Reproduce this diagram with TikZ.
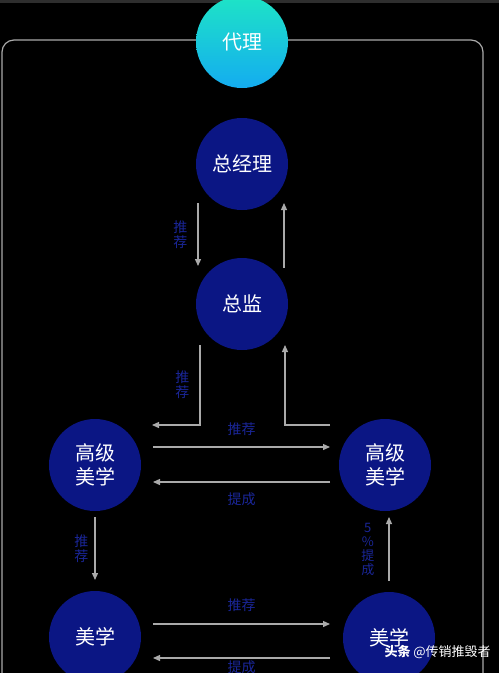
\documentclass[tikz,border=0pt]{standalone}
\usepackage{fontspec}
\setmainfont{Noto Sans CJK SC}
\usepackage{tikz}
\usetikzlibrary{arrows.meta,calc}

\definecolor{navy}{RGB}{11,22,132}
\definecolor{lblblue}{RGB}{26,38,152}
\definecolor{linegray}{RGB}{170,170,170}
\definecolor{tealtop}{RGB}{30,228,198}
\definecolor{cyanbot}{RGB}{20,172,240}

\begin{document}
\begin{tikzpicture}[x=1pt, y=-1pt,
        member/.style={circle, fill=navy, minimum size=92pt, inner sep=0pt, text=white,
                       align=center, font=\fontsize{20}{24}\selectfont},
        agent/.style={circle, top color=tealtop, bottom color=cyanbot, draw=none,
                      minimum size=92pt, inner sep=0pt, text=white, font=\fontsize{20}{24}\selectfont},
        arr/.style={draw=linegray, line width=1.3pt, -{Triangle[width=6pt,length=7pt]}},
        lbl/.style={text=lblblue, font=\fontsize{14}{15}\selectfont, inner sep=0pt, align=center}]
            % background
            \useasboundingbox (0,0) rectangle (499,673);
            \clip (0,0) rectangle (499,673);
            \fill[black] (0,0) rectangle (499,673);
            \fill[black!82] (0,0) rectangle (499,3);

            % frame
            \draw[linegray, line width=1.2pt, rounded corners=12pt] (2,720) -- (2,40) -- (483,40) -- (483,720);

            % circles
            \node[agent] (dl) at (242,42) {代理};
            \node[member] (zjl) at (242,164) {总经理};
            \node[member] (zj) at (242,304) {总监};
            \node[member] (gjL) at (95,465) {高级\\美学};
            \node[member] (gjR) at (385,465) {高级\\美学};
            \node[member] (mxL) at (95,637) {美学};
            \node[member] (mxR) at (389,638) {美学};

            % 总经理 <-> 总监
            \draw[arr] ($(zjl)+(-44,39)$) -- ($(zj)+(-44,-38)$)
                node[midway, left=10pt, lbl] {推\\荐};
            \draw[arr] ($(zj)+(42,-36)$) -- ($(zjl)+(42,39)$);

            % 总监 <-> 高级美学
            \draw[arr] ($(zj)+(-42,41)$) |- ($(gjL)+(57,-40)$)
                node[pos=0.25, left=10pt, lbl] {推\\荐};
            \draw[arr] ($(gjR)+(-55,-40)$) -| ($(zj)+(43,41)$);

            % 高级美学 <-> 高级美学
            \draw[arr] ($(gjL)+(58,-18)$) -- ($(gjR)+(-55,-18)$)
                node[midway, above=11pt, lbl] {推荐};
            \draw[arr] ($(gjR)+(-55,17)$) -- ($(gjL)+(58,17)$)
                node[midway, below=10pt, lbl] {提成};

            % 高级美学 <-> 美学
            \draw[arr] ($(gjL)+(0,52)$) -- ($(mxL)+(0,-57)$)
                node[midway, left=6pt, lbl] {推\\荐};
            \draw[arr] ($(mxR)+(0,-57)$) -- ($(gjR)+(4,52)$)
                node[midway, left=14pt, lbl, font=\fontsize{13}{14}\selectfont] {5\\\%\\提\\成};

            % 美学 <-> 美学
            \draw[arr] ($(mxL)+(58,-13)$) -- ($(mxR)+(-59,-14)$)
                node[midway, above=12pt, lbl] {推荐};
            \draw[arr] ($(mxR)+(-59,20)$) -- ($(mxL)+(58,21)$)
                node[midway, below=2pt, lbl] {提成};

            % watermark
            \node[text=white, font=\fontsize{13}{14}\selectfont, anchor=west] (wm) at (381,652) {\textbf{头条} @传销推毁者};
\end{tikzpicture}
\end{document}
